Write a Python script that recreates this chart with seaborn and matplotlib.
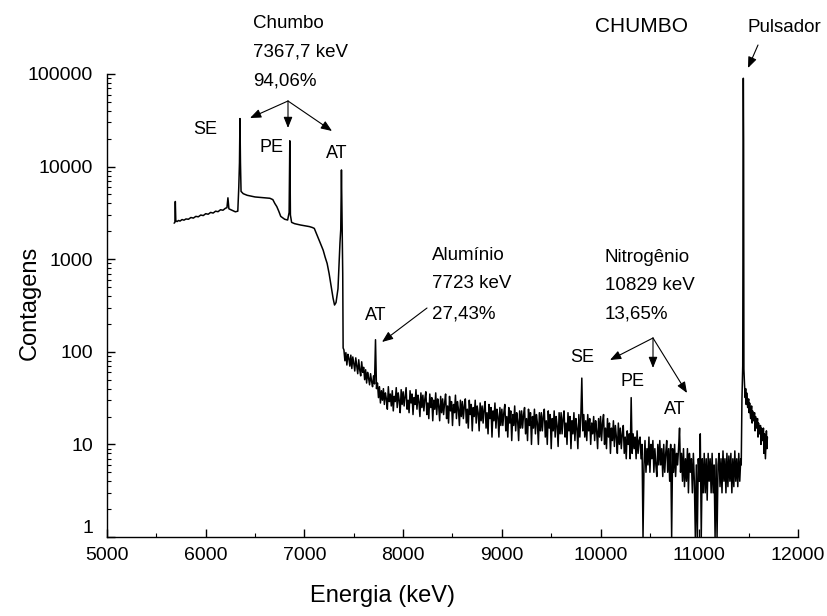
import matplotlib
matplotlib.use("Agg")
import matplotlib.pyplot as plt
from matplotlib.ticker import FixedLocator, MultipleLocator, LogLocator, NullFormatter
import numpy as np
import pandas as pd
import seaborn as sns

# ---------------- data ----------------
# smooth part of the spectrum (lead lines region)
lead_energy = [5680, 5688, 5692, 5697, 5710, 5725, 5740, 5760, 5780, 5800,
               5825, 5850, 5875, 5900, 5925, 5950, 5975, 6000, 6025, 6050,
               6075, 6100, 6125, 6150, 6175, 6200, 6215, 6225, 6235, 6260,
               6300, 6325, 6335, 6342, 6347, 6352, 6358, 6380, 6420, 6460,
               6500, 6550, 6600, 6650, 6680, 6700, 6720, 6740, 6760, 6800,
               6830, 6845, 6852, 6858, 6870, 6900, 6930, 6960, 7000, 7050,
               7080, 7100, 7130, 7160, 7190, 7210, 7230, 7250, 7270, 7290,
               7305, 7320, 7340, 7360, 7368, 7375, 7382, 7388, 7392]
lead_counts = [2450, 2500, 4200, 2600, 2550, 2620, 2580, 2680, 2640, 2720,
               2700, 2820, 2780, 2900, 2870, 3000, 2960, 3100, 3060, 3200,
               3150, 3300, 3260, 3420, 3380, 3550, 3600, 4600, 3500, 3400,
               3250, 3300, 6000, 11000, 33000, 11000, 5400, 5100, 4900, 4800,
               4700, 4650, 4600, 4550, 4400, 4000, 3700, 3300, 2900, 2700,
               2650, 3200, 19000, 3000, 2500, 2420, 2380, 2340, 2300, 2250,
               2200, 2150, 1800, 1500, 1250, 1050, 900, 700, 520, 380,
               320, 340, 480, 1500, 2100, 9200, 2100, 700, 110]

# noisy continuum, one value every 10 keV starting at 7400 keV
noise_start = 7400
noise_step = 10
noise_counts = [
    105, 80, 98, 72, 94, 85, 70, 92, 66, 88, 75, 62, 86, 70, 58, 82, 64, 55, 78, 60,
    68, 50, 64, 46, 60, 52, 44, 58, 48, 42, 55, 45, 135, 40, 46, 32, 42, 28, 38, 30,
    40, 27, 36, 31, 24, 42, 29, 35, 26, 38, 23, 33, 29, 41, 25, 36, 30, 22, 39, 27,
    37, 26, 33, 41, 24, 30, 22, 38, 28, 35, 21, 32, 27, 39, 24, 34, 29, 20, 36, 25,
    34, 23, 31, 37, 21, 28, 19, 35, 25, 32, 18, 30, 24, 36, 21, 31, 26, 18, 33, 22,
    31, 21, 28, 35, 19, 26, 17, 33, 23, 29, 16, 27, 22, 34, 19, 29, 24, 16, 30, 20,
    29, 19, 26, 31, 17, 24, 15, 30, 21, 27, 14, 25, 20, 30, 17, 26, 22, 14, 28, 18,
    26, 17, 24, 29, 15, 22, 13, 27, 19, 25, 12, 23, 18, 28, 15, 24, 20, 12, 25, 16,
    24, 16, 22, 27, 14, 20, 12, 25, 17, 23, 11, 21, 16, 26, 14, 22, 18, 11, 23, 15,
    23, 15, 21, 25, 13, 19, 11, 24, 16, 22, 10, 20, 15, 24, 13, 21, 17, 10, 22, 14,
    22, 14, 20, 24, 12, 18, 10, 23, 15, 21, 9, 19, 14, 23, 12, 20, 16, 9.5, 22, 13,
    22, 13, 19, 23, 12, 17, 10, 22, 14, 20, 9, 18, 13, 22, 11, 19, 15, 9, 21, 12,
    20, 52, 14, 21, 12, 18, 11, 21, 14, 19, 10, 17, 13, 20, 11, 18, 14, 9, 19, 12,
    20, 11, 17, 21, 10, 15, 9, 19, 12, 17, 8, 15, 11, 18, 9.5, 16, 12, 8, 17, 10,
    15, 9, 13, 16, 8, 12, 7, 14, 10, 13, 7, 32, 8, 13, 9, 12, 7, 14, 8, 11,
    12, 7, 10, 1, 6, 11, 5, 9, 6, 12, 5, 10, 7, 11, 5, 9, 6, 4.5, 10, 6,
    11, 6, 9, 4.5, 10, 5, 8, 11, 5, 9, 4, 10, 1, 9, 5, 10, 4.5, 8, 6, 9,
    15, 5, 8, 4, 9, 3.5, 7, 4, 9, 3, 8, 5, 7, 3, 8, 4, 1, 6, 1, 7,
    4, 13, 1, 7, 3, 8, 3, 7, 2.5, 8, 4, 7, 3, 8, 3, 6, 1, 7, 1, 6,
    8, 3.5, 7, 3, 8.5, 4, 7, 3, 8, 3.5, 7.5, 4, 8, 3, 7, 3.5, 8.5, 4, 7, 3.5,
    8, 4, 7,
]

# pulser peak and its tail
pulser_energy = [11425, 11432, 11440, 11444, 11446, 11449, 11452, 11458,
                 11465, 11470, 11475, 11480, 11490, 11500, 11505, 11510,
                 11520, 11530, 11535, 11540, 11550, 11560, 11565, 11570,
                 11580, 11590, 11595, 11600, 11610, 11620, 11625, 11630,
                 11640, 11650, 11655, 11660, 11670, 11680, 11685, 11690]
pulser_counts = [6, 30, 70, 19000, 90000, 19000, 65, 45,
                 32, 40, 27, 36, 25, 31, 22, 28,
                 19, 26, 17, 23, 18, 22, 14, 20,
                 15, 19, 12, 17, 13, 16, 10, 15,
                 11, 15, 8, 13, 7, 14, 9, 12]

y_ticks = [1, 10, 100, 1000, 10000, 100000]
y_ticklabels = ["1", "10", "100", "1000", "10000", "100000"]
x_ticks = [5000, 6000, 7000, 8000, 9000, 10000, 11000, 12000]

# ---------------- build table ----------------
noise_energy = noise_start + noise_step * np.arange(len(noise_counts))
df = pd.DataFrame({
    "Energia": np.concatenate([lead_energy, noise_energy, pulser_energy]),
    "Contagens": np.concatenate([lead_counts, noise_counts, pulser_counts]),
})

# ---------------- figure ----------------
sns.set_theme(style="ticks")
plt.rcParams["font.family"] = ["Liberation Sans", "DejaVu Sans"]

W, H = 828, 616
fig = plt.figure(figsize=(W / 100, H / 100), dpi=100)
fig.patch.set_facecolor("white")
X0, X1, YT, YB = 107, 798, 74, 537
ax = fig.add_axes([X0 / W, 1 - YB / H, (X1 - X0) / W, (YB - YT) / H])
ax.set_facecolor("white")

sns.lineplot(data=df, x="Energia", y="Contagens", ax=ax, color="black",
             linewidth=1.1, estimator=None, sort=True)

ax.set_yscale("log")
ax.set_xlim(5000, 12000)
ax.set_ylim(1, 100000)
ax.xaxis.set_major_locator(FixedLocator(x_ticks))
ax.xaxis.set_minor_locator(MultipleLocator(500))
ax.yaxis.set_major_locator(FixedLocator(y_ticks))
ax.set_yticklabels(y_ticklabels)
ax.yaxis.set_minor_locator(LogLocator(base=10, subs=np.arange(2, 10)))
ax.yaxis.set_minor_formatter(NullFormatter())
ax.set_xticklabels([str(t) for t in x_ticks])

for s in ["top", "right"]:
    ax.spines[s].set_visible(False)
for s in ["left", "bottom"]:
    ax.spines[s].set_color("black")
    ax.spines[s].set_linewidth(1.0)
ax.tick_params(which="major", direction="in", length=6, width=1.0,
               colors="black", labelsize=14)
ax.tick_params(which="minor", direction="in", length=3, width=0.8,
               colors="black")
ax.tick_params(axis="x", which="major", pad=7)
ax.tick_params(axis="y", which="major", pad=10)
for lab in ax.get_yticklabels():
    if lab.get_text() == "1":
        lab.set_verticalalignment("bottom")

ax.set_xlabel("Energia (keV)", fontsize=17, color="black")
ax.set_ylabel("Contagens", fontsize=17, color="black")
ax.xaxis.set_label_coords((383 - X0) / (X1 - X0), (YB - 596) / (YB - YT))
ax.yaxis.set_label_coords((30 - X0) / (X1 - X0), (YB - 303) / (YB - YT))
ax.xaxis.label.set_verticalalignment("center")
ax.yaxis.label.set_verticalalignment("center")


def axf(px, py):
    return ((px - X0) / (X1 - X0), (YB - py) / (YB - YT))


def txt(s, px, py, ha="left", size=13.5):
    ax.text(*axf(px, py), s, transform=ax.transAxes, ha=ha, va="center",
            fontsize=size, color="black", clip_on=False)


def arrow(p0, p1):
    ax.annotate("", xy=axf(*p1), xytext=axf(*p0), xycoords="axes fraction",
                textcoords="axes fraction", annotation_clip=False,
                arrowprops=dict(arrowstyle="-|>,head_length=0.55,head_width=0.22",
                                color="black", lw=0.8, shrinkA=0, shrinkB=0))


# lead block
txt("Chumbo", 253, 24)
txt("7367,7 keV", 253, 52)
txt("94,06%", 253, 81)
arrow((288, 101), (250, 118))
arrow((288, 101), (288, 128))
arrow((288, 101), (332, 131))
txt("SE", 205, 130, ha="center", size=13)
txt("PE", 272, 147, ha="center", size=13)
txt("AT", 337, 153, ha="center", size=13)

# aluminium block
txt("Alumínio", 432, 256)
txt("7723 keV", 432, 283)
txt("27,43%", 432, 314)
arrow((427, 308), (382, 342))
txt("AT", 376, 316, ha="center", size=13)

# nitrogen block
txt("Nitrogênio", 605, 258)
txt("10829 keV", 605, 285)
txt("13,65%", 605, 314)
arrow((653, 338), (610, 360))
arrow((653, 338), (653, 368))
arrow((653, 338), (687, 393))
txt("SE", 582, 358, ha="center", size=13)
txt("PE", 633, 382, ha="center", size=13)
txt("AT", 675, 410, ha="center", size=13)

# title-like label and pulser
txt("CHUMBO", 642, 26, ha="center", size=15)
txt("Pulsador", 784, 28, ha="center", size=13.5)
arrow((758, 45), (748, 68))

fig.savefig("out.png", dpi=100, facecolor="white")
